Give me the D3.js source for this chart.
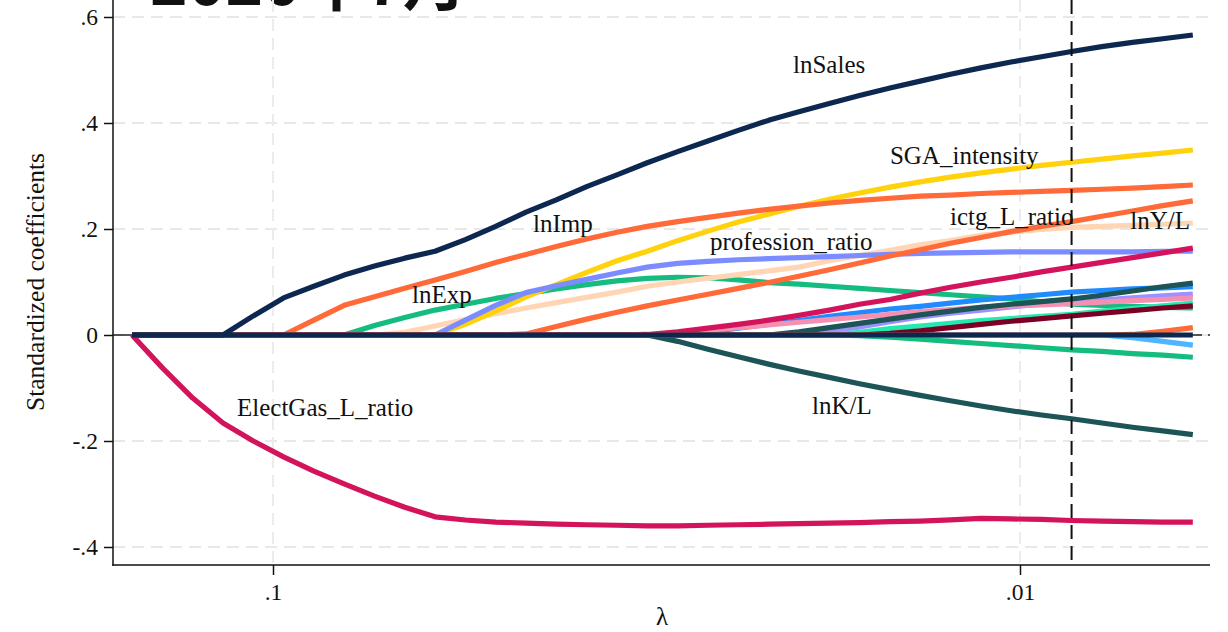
<!DOCTYPE html>
<html>
<head>
<meta charset="utf-8">
<script src="https://cdn.jsdelivr.net/npm/d3@7"></script>
<style>
  html, body { margin: 0; padding: 0; background: #fff; }
  svg { display: block; }
</style>
</head>
<body>
<svg id="chart" width="1228" height="632"></svg>
<script>
// ---- Lasso coefficient path data -------------------------------------------
// Grid of penalty values (lambda), from the largest to the smallest.
const lambdas = [
  0.15443, 0.14061, 0.12808, 0.11667, 0.10627, 0.09680, 0.08817, 0.08031,
  0.07313, 0.06662, 0.06068, 0.05527, 0.05034, 0.04585, 0.04176, 0.03803,
  0.03464, 0.03155, 0.02873, 0.02617, 0.02383, 0.02171, 0.01977, 0.01800,
  0.01640, 0.01493, 0.01360, 0.01239, 0.01128, 0.01028, 0.00936, 0.00853,
  0.00777, 0.00707, 0.00644, 0.00587
];

// Lambda picked by cross-validation (dashed reference line).
const selectedLambda = 0.00853;

// Axis ticks.
const yTicks = [-0.4, -0.2, 0, 0.2, 0.4, 0.6];
const yTickLabels = ["-.4", "-.2", "0", ".2", ".4", ".6"];
const xTicks = [0.1, 0.01];
const xTickLabels = [".1", ".01"];

const chartTitle = "2020年7月";
const yTitle = "Standardized coefficients";
const xTitle = "λ";

// Standardized coefficients along the lambda grid, one array per variable.
const electGas = [0, -0.062, -0.119, -0.166, -0.200, -0.230, -0.257, -0.281, -0.304, -0.325, -0.343, -0.349,
  -0.353, -0.355, -0.357, -0.358, -0.359, -0.360, -0.360, -0.359, -0.358, -0.357, -0.356, -0.355,
  -0.354, -0.352, -0.351, -0.349, -0.346, -0.347, -0.348, -0.350, -0.351, -0.352, -0.353, -0.353];
const lnKL = [0, 0, 0, 0, 0, 0, 0, 0, 0, 0, 0, 0, 0, 0, 0, 0, 0, 0,
  -0.012, -0.027, -0.041, -0.055, -0.068, -0.080, -0.092, -0.103, -0.114, -0.124, -0.134, -0.143,
  -0.151, -0.158, -0.166, -0.174, -0.181, -0.188];
const greenNeg = [0, 0, 0, 0, 0, 0, 0, 0, 0, 0, 0, 0, 0, 0, 0, 0, 0, 0, 0, 0, 0, 0, 0, 0,
  -0.001, -0.004, -0.008, -0.012, -0.016, -0.020, -0.024, -0.028, -0.031, -0.035, -0.038, -0.042];
const lightBlueNeg = [0, 0, 0, 0, 0, 0, 0, 0, 0, 0, 0, 0, 0, 0, 0, 0, 0, 0, 0, 0, 0, 0, 0, 0,
  0, 0, 0, 0, 0, 0, 0, 0, 0, -0.005, -0.012, -0.019];
const lnExp = [0, 0, 0, 0, 0, 0, 0, 0,
  0.018, 0.033, 0.047, 0.058, 0.069, 0.078, 0.087, 0.095, 0.102, 0.107, 0.109, 0.108, 0.104, 0.099,
  0.096, 0.092, 0.088, 0.084, 0.080, 0.076, 0.072, 0.068, 0.063, 0.058, 0.056, 0.054, 0.052, 0.051];
const lnYL = [0, 0, 0, 0, 0, 0, 0, 0, 0,
  0.005, 0.017, 0.029, 0.040, 0.051, 0.061, 0.071, 0.081, 0.092, 0.100, 0.107, 0.114, 0.121, 0.128,
  0.140, 0.150, 0.160, 0.170, 0.178, 0.188, 0.194, 0.199, 0.203, 0.205, 0.207, 0.209, 0.211];
const sgaIntensity = [0, 0, 0, 0, 0, 0, 0, 0, 0, 0, 0,
  0.020, 0.045, 0.072, 0.095, 0.118, 0.140, 0.158, 0.178, 0.196, 0.213, 0.228, 0.243, 0.256,
  0.268, 0.279, 0.289, 0.298, 0.306, 0.313, 0.320, 0.326, 0.332, 0.338, 0.343, 0.349];
const professionRatio = [0, 0, 0, 0, 0, 0, 0, 0, 0, 0, 0,
  0.028, 0.056, 0.080, 0.093, 0.105, 0.117, 0.128, 0.135, 0.139, 0.142, 0.144, 0.146, 0.148,
  0.150, 0.152, 0.154, 0.155, 0.156, 0.157, 0.157, 0.157, 0.157, 0.157, 0.158, 0.158];
const lnImp = [0, 0, 0, 0, 0, 0,
  0.028, 0.056, 0.072, 0.088, 0.104, 0.120, 0.137, 0.152, 0.167, 0.181, 0.194, 0.205, 0.214, 0.222,
  0.230, 0.237, 0.243, 0.249, 0.254, 0.258, 0.262, 0.264, 0.267, 0.269, 0.271, 0.273, 0.275, 0.277,
  0.280, 0.283];
const ictgLRatio = [0, 0, 0, 0, 0, 0, 0, 0, 0, 0, 0, 0, 0,
  0.002, 0.016, 0.030, 0.043, 0.055, 0.066, 0.077, 0.088, 0.099, 0.111, 0.123, 0.136, 0.149,
  0.161, 0.173, 0.184, 0.195, 0.205, 0.214, 0.224, 0.234, 0.244, 0.253];
const blueVar = [0, 0, 0, 0, 0, 0, 0, 0, 0, 0, 0, 0, 0, 0, 0, 0, 0, 0, 0,
  0.006, 0.013, 0.020, 0.027, 0.035, 0.042, 0.049, 0.054, 0.060, 0.066, 0.071, 0.076, 0.081,
  0.084, 0.087, 0.089, 0.091];
const pinkVar = [0, 0, 0, 0, 0, 0, 0, 0, 0, 0, 0, 0, 0, 0, 0, 0, 0, 0,
  0.004, 0.009, 0.014, 0.019, 0.024, 0.029, 0.034, 0.039, 0.044, 0.048, 0.052, 0.055, 0.057,
  0.059, 0.062, 0.065, 0.067, 0.070];
const lavenderVar = [0, 0, 0, 0, 0, 0, 0, 0, 0, 0, 0, 0, 0, 0, 0, 0, 0, 0, 0, 0, 0, 0, 0,
  0.008, 0.015, 0.025, 0.034, 0.041, 0.047, 0.053, 0.058, 0.062, 0.066, 0.070, 0.074, 0.077];
const aquaVar = [0, 0, 0, 0, 0, 0, 0, 0, 0, 0, 0, 0, 0, 0, 0, 0, 0, 0, 0, 0, 0, 0, 0, 0,
  0.005, 0.012, 0.017, 0.022, 0.027, 0.031, 0.035, 0.039, 0.045, 0.050, 0.055, 0.060];
const maroonVar = [0, 0, 0, 0, 0, 0, 0, 0, 0, 0, 0, 0, 0, 0, 0, 0, 0, 0, 0, 0, 0, 0, 0, 0, 0,
  0.003, 0.008, 0.014, 0.020, 0.026, 0.031, 0.036, 0.041, 0.046, 0.051, 0.055];
const tealVar = [0, 0, 0, 0, 0, 0, 0, 0, 0, 0, 0, 0, 0, 0, 0, 0, 0, 0, 0, 0, 0, 0,
  0.006, 0.014, 0.022, 0.030, 0.038, 0.045, 0.052, 0.058, 0.063, 0.068, 0.075, 0.083, 0.091, 0.098];
const crimsonVar = [0, 0, 0, 0, 0, 0, 0, 0, 0, 0, 0, 0, 0, 0, 0, 0, 0,
  0.001, 0.006, 0.013, 0.020, 0.028, 0.037, 0.047, 0.058, 0.067, 0.079, 0.090, 0.100, 0.109,
  0.119, 0.128, 0.137, 0.146, 0.155, 0.164];
const orangeLate = [0, 0, 0, 0, 0, 0, 0, 0, 0, 0, 0, 0, 0, 0, 0, 0, 0, 0, 0, 0, 0, 0, 0, 0,
  0, 0, 0, 0, 0, 0, 0, 0, 0, 0.001, 0.007, 0.014];
const lnSales = [0, 0, 0, 0, 0.036, 0.070, 0.092, 0.113, 0.130, 0.145, 0.158, 0.180, 0.205, 0.232,
  0.255, 0.280, 0.302, 0.325, 0.346, 0.366, 0.386, 0.405, 0.421, 0.437, 0.452, 0.466, 0.479, 0.492,
  0.504, 0.515, 0.525, 0.535, 0.544, 0.552, 0.559, 0.566];
// Variables never selected along the path.
const unselected = [0, 0, 0, 0, 0, 0, 0, 0, 0, 0, 0, 0, 0, 0, 0, 0, 0, 0, 0, 0, 0, 0, 0, 0,
  0, 0, 0, 0, 0, 0, 0, 0, 0, 0, 0, 0];

// Drawing order (first drawn is at the bottom) and colours.
const paths = [
  { values: electGas,        color: "#d3135c" },
  { values: lnKL,            color: "#1c5457" },
  { values: greenNeg,        color: "#14bc7f" },
  { values: lightBlueNeg,    color: "#4db6ff" },
  { values: lnExp,           color: "#14bc7f" },
  { values: lnYL,            color: "#ffd5b4" },
  { values: sgaIntensity,    color: "#ffd20c" },
  { values: professionRatio, color: "#7a8cff" },
  { values: lnImp,           color: "#ff6a38" },
  { values: ictgLRatio,      color: "#ff6a38" },
  { values: blueVar,         color: "#1f8bff" },
  { values: lavenderVar,     color: "#9d90ff" },
  { values: pinkVar,         color: "#f590b3" },
  { values: aquaVar,         color: "#22eab0" },
  { values: maroonVar,       color: "#7c0024" },
  { values: tealVar,         color: "#1c5457" },
  { values: crimsonVar,      color: "#d3135c" },
  { values: orangeLate,      color: "#ff6a38" },
  { values: lnSales,         color: "#0c2850" },
  { values: unselected,      color: "#0c2850" }
];

// Variable labels, placed in data coordinates (lambda, coefficient).
const labelText = ["lnSales", "SGA_intensity", "lnImp", "ictg_L_ratio", "lnY/L",
  "profession_ratio", "lnExp", "ElectGas_L_ratio", "lnK/L"];
const labelLambda = [0.02013, 0.01493, 0.04486, 0.01241, 0.00712, 0.02600, 0.06515, 0.11173, 0.01899];
const labelCoef = [0.494, 0.323, 0.194, 0.2075, 0.200, 0.160, 0.060, -0.153, -0.149];

// ---- Drawing -----------------------------------------------------------------
const svg = d3.select("#chart");
const serif = "'Liberation Serif', 'Times New Roman', serif";
const frame = { left: 113, right: 1210, top: 0, bottom: 565 };

const x = d3.scaleLog().domain([0.1, 0.01]).range([273, 1020]);
const y = d3.scaleLinear().domain([-0.4, 0.6]).range([547, 17]);

// Title (large, runs off the top edge)
svg.append("text")
  .attr("x", 150).attr("y", 5)
  .attr("font-family", "'Noto Sans CJK SC', 'Noto Sans', sans-serif")
  .attr("font-weight", 700)
  .attr("font-size", 64)
  .attr("fill", "#111")
  .text(chartTitle);

// Grid lines
const grid = svg.append("g");
grid.selectAll("line.h").data(yTicks).join("line")
  .attr("class", "h")
  .attr("x1", frame.left).attr("x2", frame.right)
  .attr("y1", d => y(d)).attr("y2", d => y(d))
  .attr("stroke", "#e8e8e8").attr("stroke-width", 2)
  .attr("stroke-dasharray", "12,7");
grid.selectAll("line.v").data(xTicks).join("line")
  .attr("class", "v")
  .attr("x1", d => x(d)).attr("x2", d => x(d))
  .attr("y1", frame.top).attr("y2", frame.bottom)
  .attr("stroke", "#ececec").attr("stroke-width", 2)
  .attr("stroke-dasharray", "12,7");

// Zero reference line, drawn from the right edge so its dash pattern ends there
svg.append("line")
  .attr("x1", frame.right).attr("x2", frame.left)
  .attr("y1", y(0)).attr("y2", y(0))
  .attr("stroke", "#222").attr("stroke-width", 1.6)
  .attr("stroke-dasharray", "2,6,3000");

// Coefficient paths
const line = d3.line()
  .x((d, i) => x(lambdas[i]))
  .y(d => y(d));
svg.append("g").selectAll("path").data(paths).join("path")
  .attr("d", d => line(d.values))
  .attr("fill", "none")
  .attr("stroke", d => d.color)
  .attr("stroke-width", 5.2)
  .attr("stroke-linejoin", "round")
  .attr("stroke-linecap", "butt");

// Selected lambda
svg.append("line")
  .attr("x1", x(selectedLambda)).attr("x2", x(selectedLambda))
  .attr("y1", frame.top).attr("y2", frame.bottom)
  .attr("stroke", "#111").attr("stroke-width", 2)
  .attr("stroke-dasharray", "14,7");

// Variable labels
svg.append("g").selectAll("text").data(labelText).join("text")
  .attr("x", (d, i) => x(labelLambda[i]))
  .attr("y", (d, i) => y(labelCoef[i]))
  .attr("font-family", serif)
  .attr("font-size", 25)
  .attr("fill", "#111")
  .text(d => d);

// Axes
const yAxis = d3.axisLeft(y)
  .tickValues(yTicks)
  .tickFormat((d, i) => yTickLabels[i])
  .tickSize(9).tickSizeOuter(0).tickPadding(6);
const gy = svg.append("g").attr("transform", `translate(${frame.left},0)`).call(yAxis);
gy.select(".domain").remove();
gy.selectAll(".tick line").attr("stroke", "#111").attr("stroke-width", 1.5);
gy.selectAll(".tick text").attr("font-family", serif).attr("font-size", 23.5).attr("fill", "#111");

const xAxis = d3.axisBottom(x)
  .tickValues(xTicks)
  .tickFormat((d, i) => xTickLabels[i])
  .tickSize(10).tickSizeOuter(0).tickPadding(8);
const gx = svg.append("g").attr("transform", `translate(0,${frame.bottom})`).call(xAxis);
gx.select(".domain").remove();
gx.selectAll(".tick line").attr("stroke", "#111").attr("stroke-width", 1.5);
gx.selectAll(".tick text").attr("font-family", serif).attr("font-size", 23.5).attr("fill", "#111");

// Axis lines
svg.append("line")
  .attr("x1", frame.left).attr("x2", frame.left)
  .attr("y1", frame.top).attr("y2", frame.bottom + 0.75)
  .attr("stroke", "#111").attr("stroke-width", 1.5);
svg.append("line")
  .attr("x1", frame.left - 0.75).attr("x2", frame.right)
  .attr("y1", frame.bottom).attr("y2", frame.bottom)
  .attr("stroke", "#111").attr("stroke-width", 1.5);

// Axis titles
svg.append("text")
  .attr("transform", "translate(44,282) rotate(-90)")
  .attr("text-anchor", "middle")
  .attr("font-family", serif).attr("font-size", 25.5)
  .attr("fill", "#111")
  .text(yTitle);
svg.append("text")
  .attr("x", 662).attr("y", 625)
  .attr("text-anchor", "middle")
  .attr("font-family", serif).attr("font-size", 25)
  .attr("fill", "#111")
  .text(xTitle);
</script>
</body>
</html>
